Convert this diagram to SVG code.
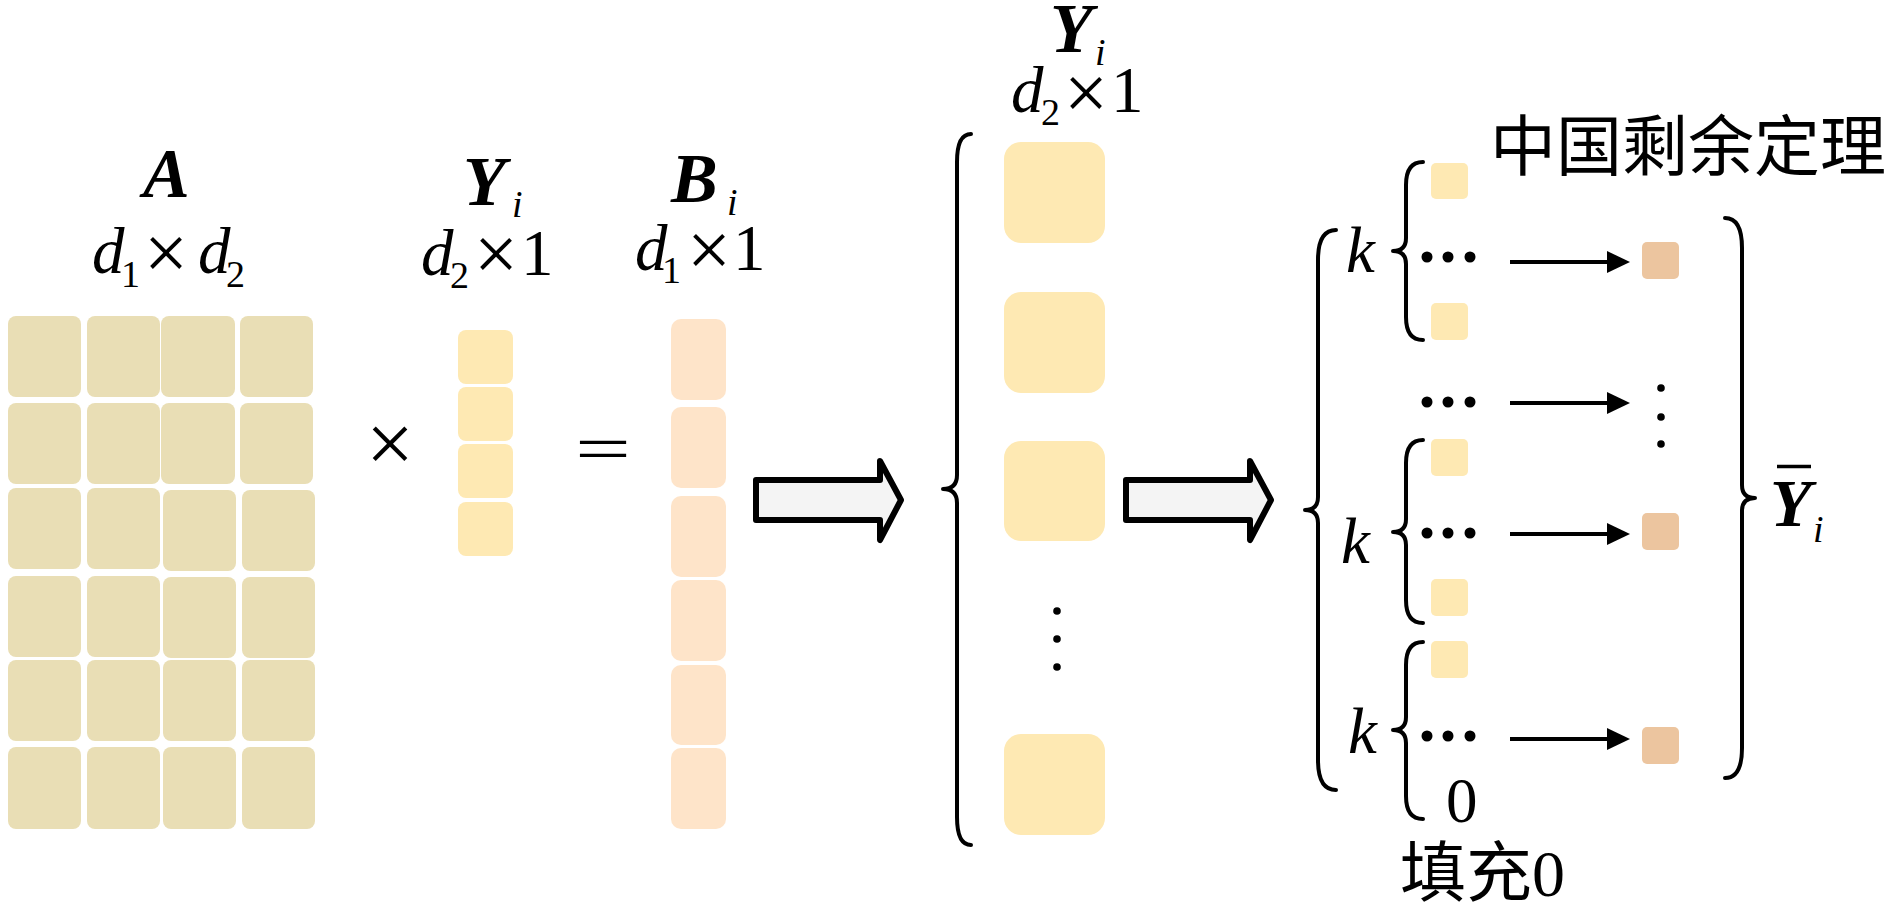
<svg xmlns="http://www.w3.org/2000/svg" width="1890" height="907" viewBox="0 0 1890 907">
<style>
.ma{fill:#e9deb5}
.ye{fill:#fee9b3}
.pk{fill:#fee4c9}
.or{fill:#ecc59f}
.mi{font-style:italic;font-size:65px}
.mb{font-style:italic;font-weight:bold;font-size:70px}
.sub{font-style:normal;font-size:38px}
.si{font-style:italic;font-size:38px}
.op{font-style:normal;font-size:78px}
.num{font-style:normal;font-size:65px}
.cjk{font-size:66px}
.brace{fill:none;stroke:#000;stroke-width:4;stroke-linecap:round;stroke-linejoin:round}
.blk{fill:#f4f4f4;stroke:#000;stroke-width:6;stroke-linejoin:round}
.ln{stroke:#000;stroke-width:4;fill:none}
</style>
<defs>
<marker id="ah" markerUnits="userSpaceOnUse" markerWidth="24" markerHeight="24" refX="0" refY="12" orient="auto">
<polygon points="0,1 23,12 0,23" fill="#000"/>
</marker>
</defs>

<g id="matrixA" style="font-family:'Liberation Serif',serif">
<rect class="ma" x="8" y="316" width="73" height="81" rx="8"/>
<rect class="ma" x="87" y="316" width="73" height="81" rx="8"/>
<rect class="ma" x="161" y="316" width="74" height="81" rx="8"/>
<rect class="ma" x="240" y="316" width="73" height="81" rx="8"/>
<rect class="ma" x="8" y="403" width="73" height="81" rx="8"/>
<rect class="ma" x="87" y="403" width="73" height="81" rx="8"/>
<rect class="ma" x="161" y="403" width="74" height="81" rx="8"/>
<rect class="ma" x="240" y="403" width="73" height="81" rx="8"/>
<rect class="ma" x="8" y="488" width="73" height="81" rx="8"/>
<rect class="ma" x="87" y="488" width="73" height="81" rx="8"/>
<rect class="ma" x="163" y="490" width="73" height="81" rx="8"/>
<rect class="ma" x="242" y="490" width="73" height="81" rx="8"/>
<rect class="ma" x="8" y="576" width="73" height="81" rx="8"/>
<rect class="ma" x="87" y="576" width="73" height="81" rx="8"/>
<rect class="ma" x="163" y="577" width="73" height="81" rx="8"/>
<rect class="ma" x="242" y="577" width="73" height="81" rx="8"/>
<rect class="ma" x="8" y="660" width="73" height="81" rx="8"/>
<rect class="ma" x="87" y="660" width="73" height="81" rx="8"/>
<rect class="ma" x="163" y="660" width="73" height="81" rx="8"/>
<rect class="ma" x="242" y="660" width="73" height="81" rx="8"/>
<rect class="ma" x="8" y="747" width="73" height="82" rx="8"/>
<rect class="ma" x="87" y="747" width="73" height="82" rx="8"/>
<rect class="ma" x="163" y="747" width="73" height="82" rx="8"/>
<rect class="ma" x="242" y="747" width="73" height="82" rx="8"/>
<text class="mb" x="143" y="197" style="font-family:'Liberation Serif',serif">A</text>
<text style="font-family:'Liberation Serif',serif"><tspan class="mi" x="92" y="273">d</tspan><tspan class="sub" x="121" y="287">1</tspan><tspan class="op" x="144" y="279">×</tspan><tspan class="mi" x="198" y="273">d</tspan><tspan class="sub" x="226" y="287">2</tspan></text>
</g>

<g id="times">
<text class="op" x="366" y="472" style="font-family:'Liberation Serif',serif;font-size:85px">×</text>
</g>

<g id="vectorY">
<rect class="ye" x="458" y="330" width="55" height="54" rx="8"/>
<rect class="ye" x="458" y="387" width="55" height="54" rx="8"/>
<rect class="ye" x="458" y="444" width="55" height="54" rx="8"/>
<rect class="ye" x="458" y="502" width="55" height="54" rx="8"/>
<text style="font-family:'Liberation Serif',serif"><tspan class="mb" x="463" y="205">Y</tspan><tspan class="si" x="512" y="217">i</tspan></text>
<text style="font-family:'Liberation Serif',serif"><tspan class="mi" x="421" y="275">d</tspan><tspan class="sub" x="450" y="288">2</tspan><tspan class="op" x="474" y="280">×</tspan><tspan class="num" x="521" y="275">1</tspan></text>
</g>

<g id="equals">
<text class="op" x="575" y="471" style="font-family:'Liberation Serif',serif;font-size:66px" textLength="56" lengthAdjust="spacingAndGlyphs">=</text>
</g>

<g id="vectorB">
<rect class="pk" x="671" y="319" width="55" height="81" rx="10"/>
<rect class="pk" x="671" y="407" width="55" height="81" rx="10"/>
<rect class="pk" x="671" y="496" width="55" height="81" rx="10"/>
<rect class="pk" x="671" y="580" width="55" height="81" rx="10"/>
<rect class="pk" x="671" y="665" width="55" height="80" rx="10"/>
<rect class="pk" x="671" y="748" width="55" height="81" rx="10"/>
<text style="font-family:'Liberation Serif',serif"><tspan class="mb" x="671" y="202">B</tspan><tspan class="si" x="727" y="215">i</tspan></text>
<text style="font-family:'Liberation Serif',serif"><tspan class="mi" x="635" y="270">d</tspan><tspan class="sub" x="662" y="283">1</tspan><tspan class="op" x="687" y="276">×</tspan><tspan class="num" x="733" y="270">1</tspan></text>
</g>

<g id="split">
<path class="brace" d="M971,134 Q957,134 957,162 L957,475 Q957,489 943,489 Q957,489 957,503 L957,817 Q957,845 971,845"/>
<rect class="ye" x="1004" y="142" width="101" height="101" rx="17"/>
<rect class="ye" x="1004" y="292" width="101" height="101" rx="17"/>
<rect class="ye" x="1004" y="441" width="101" height="100" rx="17"/>
<rect class="ye" x="1004" y="734" width="101" height="101" rx="17"/>
<circle cx="1057" cy="611" r="3.8"/>
<circle cx="1057" cy="639" r="3.8"/>
<circle cx="1057" cy="667" r="3.8"/>
<text style="font-family:'Liberation Serif',serif"><tspan class="mb" x="1050" y="52">Y</tspan><tspan class="si" x="1095" y="65">i</tspan></text>
<text style="font-family:'Liberation Serif',serif"><tspan class="mi" x="1011" y="112">d</tspan><tspan class="sub" x="1041" y="125">2</tspan><tspan class="op" x="1064" y="119">×</tspan><tspan class="num" x="1111" y="112">1</tspan></text>
</g>

<g id="crt">
<path class="brace" d="M1336,230 Q1318,230 1318,260 L1318,497 Q1318,510 1305,510 Q1318,510 1318,523 L1318,760 Q1318,790 1336,790"/>
<path class="brace" d="M1423,162 Q1406,162 1406,185 L1406,238 Q1406,251 1393,251 Q1406,251 1406,264 L1406,317 Q1406,340 1423,340"/>
<path class="brace" d="M1423,440 Q1406,440 1406,463 L1406,519 Q1406,532 1393,532 Q1406,532 1406,545 L1406,600 Q1406,623 1423,623"/>
<path class="brace" d="M1423,642 Q1406,642 1406,665 L1406,717 Q1406,730 1393,730 Q1406,730 1406,743 L1406,796 Q1406,819 1423,819"/>
<path class="brace" d="M1725,218 Q1742,218 1742,248 L1742,485 Q1742,498 1755,498 Q1742,498 1742,511 L1742,748 Q1742,778 1725,778"/>
<text class="mi" x="1346" y="272" style="font-family:'Liberation Serif',serif">k</text>
<text class="mi" x="1341" y="563" style="font-family:'Liberation Serif',serif">k</text>
<text class="mi" x="1348" y="753" style="font-family:'Liberation Serif',serif">k</text>
<rect class="ye" x="1431" y="163" width="37" height="36" rx="5"/>
<rect class="ye" x="1431" y="303" width="37" height="37" rx="5"/>
<rect class="ye" x="1431" y="439" width="37" height="37" rx="5"/>
<rect class="ye" x="1431" y="579" width="37" height="37" rx="5"/>
<rect class="ye" x="1431" y="641" width="37" height="37" rx="5"/>
<circle cx="1427" cy="257" r="5.5"/><circle cx="1448" cy="257" r="5.5"/><circle cx="1470" cy="257" r="5.5"/>
<circle cx="1427" cy="402" r="5.5"/><circle cx="1448" cy="402" r="5.5"/><circle cx="1470" cy="402" r="5.5"/>
<circle cx="1427" cy="533" r="5.5"/><circle cx="1448" cy="533" r="5.5"/><circle cx="1470" cy="533" r="5.5"/>
<circle cx="1427" cy="736" r="5.5"/><circle cx="1448" cy="736" r="5.5"/><circle cx="1470" cy="736" r="5.5"/>
<rect class="or" x="1642" y="242" width="37" height="37" rx="5"/>
<rect class="or" x="1642" y="513" width="37" height="37" rx="5"/>
<rect class="or" x="1642" y="727" width="37" height="37" rx="5"/>
<circle cx="1661" cy="388" r="3.8"/>
<circle cx="1661" cy="417" r="3.8"/>
<circle cx="1661" cy="444" r="3.8"/>
<text class="num" x="1446" y="822" style="font-family:'Liberation Serif',serif;font-size:63px">0</text>
<text class="cjk" x="1400" y="896" style="font-family:'Liberation Serif','Noto Sans CJK SC',serif">填充0</text>
<text class="cjk" x="1490" y="170" style="font-family:'Liberation Serif','Noto Sans CJK SC',serif">中国剩余定理</text>
<text style="font-family:'Liberation Serif',serif"><tspan class="mb" x="1770" y="526" style="font-size:68px">Y</tspan><tspan class="si" x="1813" y="542">i</tspan></text>
<line x1="1777" y1="466.5" x2="1811" y2="466.5" stroke="#000" stroke-width="3.5"/>
</g>

<g id="connectors">
<path class="blk" d="M756,480 L880,480 L880,461 L901,500 L880,540 L880,520 L756,520 Z"/>
<path class="blk" d="M1126,480 L1250,480 L1250,461 L1271,500 L1250,540 L1250,520 L1126,520 Z"/>
<line class="ln" x1="1510" y1="262" x2="1607" y2="262" marker-end="url(#ah)"/>
<line class="ln" x1="1510" y1="403" x2="1607" y2="403" marker-end="url(#ah)"/>
<line class="ln" x1="1510" y1="534" x2="1607" y2="534" marker-end="url(#ah)"/>
<line class="ln" x1="1510" y1="739" x2="1607" y2="739" marker-end="url(#ah)"/>
</g>
</svg>
